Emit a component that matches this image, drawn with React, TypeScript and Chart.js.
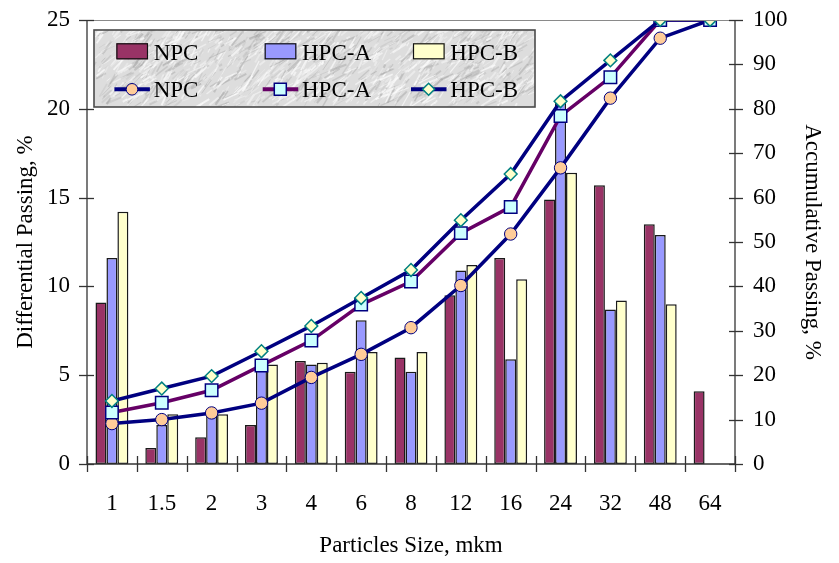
import React, { useEffect, useRef } from 'react';
import { Chart, registerables } from 'chart.js';

Chart.register(...registerables);

const categories = ['1', '1.5', '2', '3', '4', '6', '8', '12', '16', '24', '32', '48', '64'];
const npcDiff = [9.1, 0.9, 1.5, 2.2, 5.8, 5.2, 6.0, 9.5, 11.6, 14.9, 15.7, 13.5, 4.1];
const hpcADiff = [11.6, 2.2, 2.8, 5.6, 5.6, 8.1, 5.2, 10.9, 5.9, 20.5, 8.7, 12.9, null];
const hpcBDiff = [14.2, 2.8, 2.8, 5.6, 5.7, 6.3, 6.3, 11.2, 10.4, 16.4, 9.2, 9.0, null];
const npcCum = [9.1, 10.0, 11.5, 13.7, 19.5, 24.7, 30.7, 40.2, 51.8, 66.7, 82.4, 95.9, 100];
const hpcACum = [11.6, 13.8, 16.6, 22.2, 27.8, 35.9, 41.1, 52.0, 57.9, 78.4, 87.1, 100, 100];
const hpcBCum = [14.2, 17.0, 19.8, 25.4, 31.1, 37.4, 43.7, 54.9, 65.3, 81.7, 90.9, 100, 100];
const leftTicks = [0, 5, 10, 15, 20, 25];
const rightTicks = [0, 10, 20, 30, 40, 50, 60, 70, 80, 90, 100];
const xTitle = 'Particles Size, mkm';
const yTitle = 'Differential Passing, %';
const y1Title = 'Accumulative Passing, %';
const seriesNames = ['NPC', 'HPC-A', 'HPC-B'];

const FONT = '"Liberation Serif", "Times New Roman", serif';
const NAVY = '#000080';
const PURPLE = '#660066';
const BAR_COLORS = ['#993366', '#9999FF', '#FFFFCC'];
const LINE_COLORS = [NAVY, PURPLE, NAVY];

function makeMarble(w: number, h: number) {
  const c = document.createElement('canvas');
  c.width = w;
  c.height = h;
  const g = c.getContext('2d')!;
  g.fillStyle = '#dddddd';
  g.fillRect(0, 0, w, h);
  let s = 98765;
  const rnd = () => (s = (s * 16807) % 2147483647) / 2147483647;
  for (let i = 0; i < 1400; i++) {
    const x0 = rnd() * w;
    const y0 = rnd() * h;
    const len = 3 + rnd() * 16;
    const ang = -0.75 + (rnd() - 0.5) * 0.8;
    const dark = rnd() < 0.4;
    g.strokeStyle = dark
      ? `rgba(150,150,150,${0.12 + rnd() * 0.3})`
      : `rgba(252,252,252,${0.25 + rnd() * 0.5})`;
    g.lineWidth = 0.6 + rnd() * 1.6;
    g.beginPath();
    g.moveTo(x0, y0);
    g.lineTo(x0 + Math.cos(ang) * len, y0 + Math.sin(ang) * len);
    g.stroke();
  }
  return c;
}

function drawMarker(ctx: CanvasRenderingContext2D, kind: number, x: number, y: number) {
  ctx.save();
  ctx.beginPath();
  if (kind === 0) {
    ctx.arc(x, y, 5.8, 0, Math.PI * 2);
    ctx.fillStyle = '#FFCC99';
    ctx.strokeStyle = NAVY;
    ctx.lineWidth = 1;
  } else if (kind === 1) {
    ctx.rect(x - 6, y - 6, 12, 12);
    ctx.fillStyle = '#CCFFFF';
    ctx.strokeStyle = NAVY;
    ctx.lineWidth = 1.5;
  } else {
    ctx.moveTo(x - 6, y);
    ctx.lineTo(x, y - 6);
    ctx.lineTo(x + 6, y);
    ctx.lineTo(x, y + 6);
    ctx.closePath();
    ctx.fillStyle = '#FFFFCC';
    ctx.strokeStyle = '#008080';
    ctx.lineWidth = 1.5;
  }
  ctx.fill();
  ctx.stroke();
  ctx.restore();
}

const decorPlugin = {
  id: 'decor',
  afterDatasetsDraw(chart: any) {
    const { ctx, chartArea: a, scales } = chart;
    const xs = scales.x;
    const ys = scales.y;
    const y1s = scales.y1;
    const seg = (x1: number, y1: number, x2: number, y2: number) => {
      ctx.beginPath();
      ctx.moveTo(x1, y1);
      ctx.lineTo(x2, y2);
      ctx.stroke();
    };
    ctx.save();
    ctx.strokeStyle = '#8a8a8a';
    ctx.lineWidth = 1;
    seg(a.left, a.top + 0.5, a.right, a.top + 0.5);
    ctx.strokeStyle = '#333333';
    ctx.lineWidth = 1.3;
    seg(a.left, a.top, a.left, a.bottom);
    seg(a.right, a.top, a.right, a.bottom);
    seg(a.left, a.bottom, a.right, a.bottom);
    for (const v of leftTicks) {
      const py = Math.round(ys.getPixelForValue(v)) + 0.5;
      seg(a.left - 8, py, a.left + 7, py);
    }
    for (const v of rightTicks) {
      const py = Math.round(y1s.getPixelForValue(v)) + 0.5;
      seg(a.right - 6, py, a.right + 8, py);
    }
    const half = (xs.getPixelForValue(1) - xs.getPixelForValue(0)) / 2;
    for (let i = 0; i <= categories.length; i++) {
      const px =
        i < categories.length ? xs.getPixelForValue(i) - half : xs.getPixelForValue(i - 1) + half;
      seg(Math.round(px) + 0.5, a.bottom - 8, Math.round(px) + 0.5, a.bottom + 8);
    }

    const bx = a.left + 7;
    const by = a.top + 10;
    const bw = 441;
    const bh = 77;
    if (!chart.$marble) chart.$marble = makeMarble(bw, bh);
    ctx.drawImage(chart.$marble, bx, by);
    ctx.strokeStyle = '#4a4a4a';
    ctx.lineWidth = 1.6;
    ctx.strokeRect(bx, by, bw, bh);

    ctx.font = `23px ${FONT}`;
    ctx.textAlign = 'left';
    ctx.textBaseline = 'alphabetic';
    const cols = [22.4, 170.7, 319];
    for (let k = 0; k < 3; k++) {
      const cx = bx + cols[k];
      ctx.fillStyle = BAR_COLORS[k];
      ctx.fillRect(cx, by + 13.3, 31.6, 16);
      ctx.strokeStyle = '#111';
      ctx.lineWidth = 1.2;
      ctx.strokeRect(cx + 0.5, by + 13.8, 30.6, 15);
      ctx.fillStyle = '#000';
      ctx.fillText(seriesNames[k], cx + 37.3, by + 29.5);
      const ly = by + 59.3;
      ctx.strokeStyle = LINE_COLORS[k];
      ctx.lineWidth = 4;
      seg(cx - 2, ly, cx + 33.5, ly);
      drawMarker(ctx, k, cx + 15.6, ly);
      ctx.fillStyle = '#000';
      ctx.fillText(seriesNames[k], cx + 37.3, by + 67);
    }
    ctx.restore();
  },
};

export default function App() {
  const ref = useRef<HTMLCanvasElement | null>(null);

  useEffect(() => {
    if (!ref.current) return;
    const tickFont = { family: FONT, size: 23 };
    const pointStyles = ['circle', 'rect', 'rectRot'];
    const pointRadii = [6.2, 8.8, 6.4];
    const pointFills = ['#FFCC99', '#CCFFFF', '#FFFFCC'];
    const pointBorders = [NAVY, NAVY, '#008080'];
    const pointBorderW = [1, 1.5, 1.5];
    const diffs = [npcDiff, hpcADiff, hpcBDiff];
    const cums = [npcCum, hpcACum, hpcBCum];

    const barSets = diffs.map((d, k) => ({
      type: 'bar' as const,
      label: seriesNames[k],
      data: d,
      yAxisID: 'y',
      backgroundColor: BAR_COLORS[k],
      borderColor: '#1a1a1a',
      borderWidth: 1.5,
      borderSkipped: false,
      categoryPercentage: 0.66,
      barPercentage: 1,
      order: 10,
    }));
    const lineSets = cums.map((d, k) => ({
      type: 'line' as const,
      label: seriesNames[k],
      data: d,
      yAxisID: 'y1',
      borderColor: LINE_COLORS[k],
      borderWidth: 3.5,
      tension: 0,
      fill: false,
      pointStyle: pointStyles[k],
      pointRadius: pointRadii[k],
      pointBackgroundColor: pointFills[k],
      pointBorderColor: pointBorders[k],
      pointBorderWidth: pointBorderW[k],
      order: 3 - k,
    }));

    const vFit = (w: number) => (s: any) => {
      s.width = w;
      s.paddingTop = 0;
      s.paddingBottom = 0;
    };

    const chart = new Chart(ref.current, {
      type: 'bar',
      data: { labels: categories, datasets: [...barSets, ...lineSets] as any },
      options: {
        responsive: false,
        animation: false,
        devicePixelRatio: 1,
        layout: { padding: { top: 20, left: 0, right: 0, bottom: 0 } },
        plugins: { legend: { display: false }, tooltip: { enabled: false } },
        scales: {
          x: {
            type: 'category',
            offset: true,
            grid: { display: false, drawTicks: false },
            border: { display: false },
            ticks: { color: '#000', font: tickFont, padding: 26, maxRotation: 0, autoSkip: false },
            title: { display: true, text: xTitle, color: '#000', font: tickFont, padding: { top: 0, bottom: 3 } },
            afterFit: (s: any) => {
              s.height = 99;
              s.paddingLeft = 0;
              s.paddingRight = 0;
            },
          },
          y: {
            position: 'left',
            min: 0,
            max: 25,
            afterBuildTicks: (s: any) => {
              s.ticks = leftTicks.map((v) => ({ value: v }));
            },
            grid: { display: false, drawTicks: false },
            border: { display: false },
            ticks: { color: '#000', font: tickFont, padding: 17 },
            title: { display: true, text: yTitle, color: '#000', font: tickFont, padding: { top: 12, bottom: 0 } },
            afterFit: vFit(87),
          },
          y1: {
            position: 'right',
            min: 0,
            max: 100,
            afterBuildTicks: (s: any) => {
              s.ticks = rightTicks.map((v) => ({ value: v }));
            },
            grid: { display: false, drawTicks: false },
            border: { display: false },
            ticks: { color: '#000', font: tickFont, padding: 18 },
            title: { display: true, text: y1Title, color: '#000', font: tickFont, padding: { top: 13, bottom: 0 } },
            afterFit: vFit(104),
          },
        },
      } as any,
      plugins: [decorPlugin],
    });
    return () => chart.destroy();
  }, []);

  return (
    <div style={{ position: 'absolute', left: 0, top: 0, width: 839, height: 563, background: '#fff' }}>
      <canvas ref={ref} width={839} height={563} style={{ width: 839, height: 563, display: 'block' }} />
    </div>
  );
}
